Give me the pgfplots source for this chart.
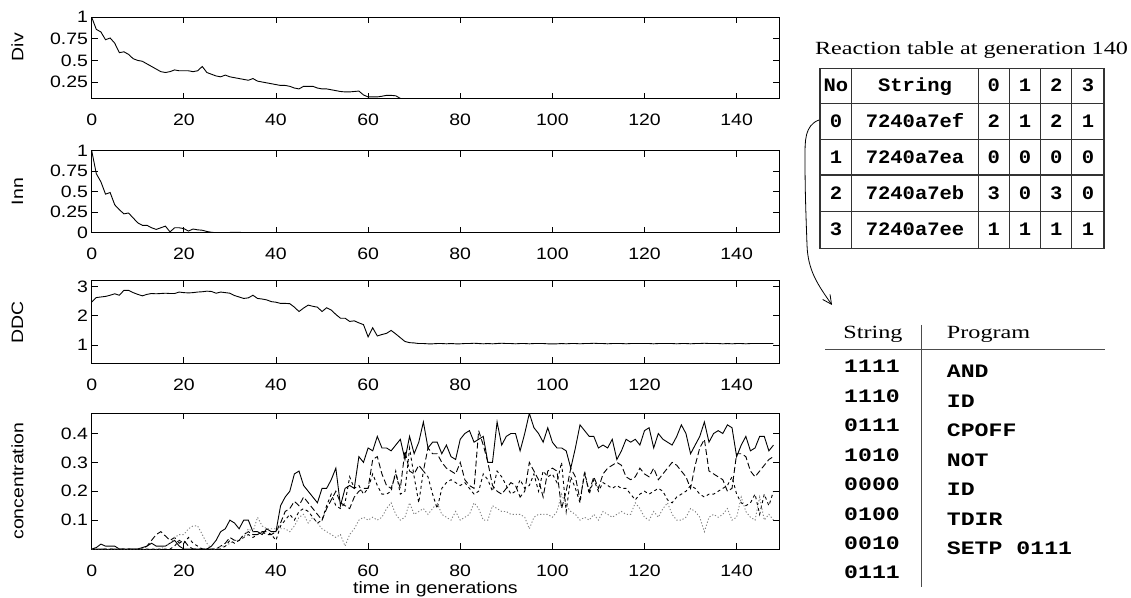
\documentclass[border=0pt]{standalone}
\usepackage{fontspec}
\setmainfont{Liberation Sans}[FakeStretch=1.18]
\newfontfamily\timesfont{Liberation Serif}[FakeStretch=1.3]
\newfontfamily\monoA{Liberation Mono}[FakeStretch=1.08]
\newfontfamily\monoB{Liberation Mono}[FakeStretch=1.22]
\usepackage{pgfplots}
\usepackage{pgfplotstable}
\pgfplotsset{compat=1.18}
\usetikzlibrary{arrows.meta}

% g, diversity, innovation, DDC
\pgfplotstableread{
g div inn ddc
0 1.00 1.00 2.48
1 0.86 0.72 2.63
2 0.83 0.62 2.65
3 0.74 0.47 2.67
4 0.76 0.49 2.71
5 0.70 0.34 2.76
6 0.59 0.28 2.71
7 0.60 0.23 2.88
8 0.57 0.24 2.88
9 0.52 0.18 2.80
10 0.50 0.12 2.74
11 0.49 0.09 2.69
12 0.46 0.09 2.74
13 0.43 0.06 2.77
14 0.40 0.04 2.76
15 0.37 0.06 2.77
16 0.36 0.08 2.78
17 0.37 0.01 2.77
18 0.39 0.06 2.77
19 0.38 0.06 2.82
20 0.38 0.05 2.80
21 0.38 0.02 2.79
22 0.37 0.045 2.80
23 0.38 0.035 2.82
24 0.43 0.03 2.83
25 0.36 0.015 2.85
26 0.34 0.005 2.84
27 0.32 0 2.78
28 0.31 0 2.82
29 0.33 0 2.80
30 0.31 0.003 2.78
31 0.30 0.005 2.70
32 0.29 0.005 2.65
33 0.28 0 2.60
34 0.27 0 2.62
35 0.29 0 2.71
36 0.26 0 2.60
37 0.25 0 2.58
38 0.24 0 2.55
39 0.23 0 2.49
40 0.22 0 2.47
41 0.21 0 2.43
42 0.21 0 2.43
43 0.20 0 2.42
44 0.18 0 2.30
45 0.17 0 2.15
46 0.20 0 2.27
47 0.20 0 2.37
48 0.20 0 2.33
49 0.18 0 2.30
50 0.17 0 2.15
51 0.17 0 2.28
52 0.16 0 2.20
53 0.15 0 2.05
54 0.14 0 1.92
55 0.135 0 1.92
56 0.135 0 1.81
57 0.14 0 1.83
58 0.145 0 1.76
59 0.10 0 1.70
60 0.077 0 1.28
61 0.077 0 1.59
62 0.077 0 1.31
63 0.085 0 1.36
64 0.095 0 1.40
65 0.095 0 1.50
66 0.09 0 1.38
67 0.06 0 1.25
68 0.045 0 1.12
69 0.03 0 1.08
70 0.02 0 1.07
71 0.02 0 1.05
72 0.02 0 1.05
73 0.02 0 1.04
74 0.02 0 1.04
75 0.02 0 1.05
76 0.02 0 1.05
77 0.02 0 1.04
78 0.02 0 1.05
79 0.02 0 1.04
80 0.02 0 1.04
81 0.02 0 1.05
82 0.02 0 1.05
83 0.02 0 1.06
84 0.02 0 1.05
85 0.02 0 1.04
86 0.02 0 1.05
87 0.02 0 1.04
88 0.02 0 1.05
89 0.02 0 1.06
90 0.02 0 1.05
91 0.02 0 1.05
92 0.02 0 1.04
93 0.02 0 1.05
94 0.02 0 1.05
95 0.02 0 1.04
96 0.02 0 1.05
97 0.02 0 1.05
98 0.02 0 1.05
99 0.02 0 1.04
100 0.02 0 1.04
101 0.02 0 1.04
102 0.02 0 1.05
103 0.02 0 1.04
104 0.02 0 1.05
105 0.02 0 1.05
106 0.02 0 1.04
107 0.02 0 1.05
108 0.02 0 1.05
109 0.02 0 1.06
110 0.02 0 1.05
111 0.02 0 1.05
112 0.02 0 1.04
113 0.02 0 1.05
114 0.02 0 1.05
115 0.02 0 1.05
116 0.02 0 1.04
117 0.02 0 1.05
118 0.02 0 1.05
119 0.02 0 1.05
120 0.02 0 1.05
121 0.02 0 1.05
122 0.02 0 1.04
123 0.02 0 1.05
124 0.02 0 1.05
125 0.02 0 1.05
126 0.02 0 1.05
127 0.02 0 1.04
128 0.02 0 1.05
129 0.02 0 1.05
130 0.02 0 1.04
131 0.02 0 1.05
132 0.02 0 1.05
133 0.02 0 1.06
134 0.02 0 1.05
135 0.02 0 1.05
136 0.02 0 1.05
137 0.02 0 1.04
138 0.02 0 1.05
139 0.02 0 1.04
140 0.02 0 1.05
141 0.02 0 1.05
142 0.02 0 1.04
143 0.02 0 1.05
144 0.02 0 1.05
145 0.02 0 1.05
146 0.02 0 1.05
147 0.02 0 1.05
148 0.02 0 1.05
}\toptab

% concentrations of the four dominant strings
\pgfplotstableread{
g a b c d
0 0 0 0 0
1 0.005 0 0 0
2 0.017 0 0 0
3 0.01 0 0 0
4 0.01 0 0 0
5 0.01 0 0 0
6 0 0 0 0
7 0 0 0 0
8 0 0 0 0
9 0 0 0 0
10 0 0 0 0
11 0.005 0 0 0
12 0.01 0.01 0 0
13 0.02 0.03 0 0
14 0.01 0.05 0 0
15 0.01 0.06 0 0
16 0.01 0.045 0 0.01
17 0.02 0.03 0 0.02
18 0.03 0.04 0.01 0.04
19 0.01 0.02 0.03 0.05
20 0 0.03 0.02 0.05
21 0 0.01 0.04 0.07
22 0 0 0.02 0.08
23 0 0 0.01 0.08
24 0 0 0 0.05
25 0 0 0 0.02
26 0.01 0 0 0
27 0.03 0 0 0
28 0.06 0.01 0 0.01
29 0.07 0.02 0.01 0.01
30 0.10 0.04 0.03 0.02
31 0.09 0.03 0.02 0.03
32 0.07 0.03 0.03 0.03
33 0.10 0.05 0.04 0.04
34 0.10 0.06 0.05 0.07
35 0.06 0.05 0.04 0.06
36 0.06 0.05 0.05 0.11
37 0.05 0.06 0.06 0.08
38 0.07 0.06 0.05 0.07
39 0.06 0.05 0.05 0.07
40 0.06 0.06 0.03 0.07
41 0.15 0.09 0.08 0.07
42 0.18 0.13 0.10 0.07
43 0.20 0.14 0.12 0.06
44 0.26 0.165 0.10 0.08
45 0.27 0.15 0.13 0.11
46 0.22 0.18 0.14 0.12
47 0.20 0.16 0.13 0.09
48 0.18 0.14 0.11 0.11
49 0.16 0.12 0.09 0.09
50 0.21 0.10 0.10 0.07
51 0.21 0.14 0.15 0.06
52 0.24 0.17 0.19 0.05
53 0.28 0.20 0.15 0.04
54 0.15 0.16 0.14 0.05
55 0.21 0.15 0.16 0.01
56 0.22 0.14 0.25 0.05
57 0.21 0.18 0.21 0.07
58 0.32 0.20 0.22 0.10
59 0.30 0.21 0.19 0.11
60 0.35 0.21 0.21 0.10
61 0.34 0.31 0.26 0.11
62 0.39 0.32 0.22 0.10
63 0.35 0.26 0.19 0.11
64 0.35 0.22 0.19 0.14
65 0.34 0.21 0.20 0.16
66 0.36 0.26 0.27 0.12
67 0.38 0.21 0.19 0.10
68 0.31 0.34 0.20 0.11
69 0.39 0.27 0.35 0.16
70 0.33 0.26 0.25 0.12
71 0.37 0.29 0.16 0.13
72 0.44 0.27 0.27 0.14
73 0.35 0.35 0.25 0.12
74 0.37 0.33 0.19 0.14
75 0.37 0.33 0.14 0.16
76 0.33 0.30 0.21 0.12
77 0.36 0.28 0.23 0.11
78 0.32 0.27 0.24 0.10
79 0.31 0.26 0.23 0.13
80 0.38 0.30 0.22 0.10
81 0.40 0.24 0.23 0.11
82 0.41 0.22 0.21 0.12
83 0.37 0.21 0.19 0.16
84 0.38 0.41 0.20 0.14
85 0.39 0.36 0.26 0.10
86 0.30 0.30 0.24 0.10
87 0.30 0.22 0.20 0.15
88 0.44 0.20 0.27 0.14
89 0.36 0.19 0.25 0.13
90 0.39 0.21 0.22 0.13
91 0.40 0.23 0.19 0.12
92 0.40 0.22 0.20 0.12
93 0.34 0.18 0.24 0.12
94 0.40 0.20 0.21 0.11
95 0.47 0.30 0.22 0.07
96 0.42 0.27 0.26 0.11
97 0.40 0.24 0.20 0.12
98 0.37 0.18 0.27 0.12
99 0.42 0.27 0.25 0.12
100 0.37 0.28 0.26 0.11
101 0.35 0.27 0.23 0.13
102 0.35 0.14 0.30 0.19
103 0.34 0.20 0.13 0.15
104 0.28 0.28 0.25 0.13
105 0.35 0.25 0.21 0.12
106 0.43 0.17 0.16 0.10
107 0.41 0.26 0.27 0.11
108 0.39 0.20 0.19 0.10
109 0.39 0.25 0.24 0.12
110 0.35 0.21 0.20 0.10
111 0.36 0.26 0.23 0.13
112 0.35 0.28 0.22 0.12
113 0.38 0.29 0.21 0.11
114 0.31 0.30 0.22 0.12
115 0.34 0.29 0.21 0.13
116 0.38 0.25 0.21 0.12
117 0.37 0.24 0.19 0.12
118 0.38 0.25 0.17 0.16
119 0.36 0.28 0.19 0.14
120 0.41 0.26 0.20 0.11
121 0.42 0.25 0.19 0.10
122 0.35 0.28 0.20 0.13
123 0.40 0.24 0.21 0.11
124 0.38 0.26 0.20 0.14
125 0.37 0.28 0.17 0.16
126 0.36 0.30 0.16 0.12
127 0.39 0.29 0.18 0.10
128 0.43 0.27 0.19 0.10
129 0.40 0.25 0.20 0.11
130 0.33 0.21 0.22 0.14
131 0.36 0.29 0.21 0.13
132 0.39 0.35 0.19 0.11
133 0.44 0.38 0.18 0.06
134 0.37 0.27 0.19 0.11
135 0.40 0.26 0.19 0.12
136 0.41 0.25 0.20 0.11
137 0.40 0.24 0.21 0.12
138 0.43 0.20 0.22 0.14
139 0.42 0.21 0.25 0.10
140 0.32 0.33 0.19 0.11
141 0.36 0.33 0.16 0.18
142 0.39 0.32 0.15 0.13
143 0.34 0.27 0.16 0.11
144 0.35 0.25 0.19 0.10
145 0.39 0.27 0.12 0.18
146 0.39 0.29 0.19 0.10
147 0.34 0.31 0.15 0.12
148 0.36 0.32 0.20 0.10
}\conctab

\pgfplotsset{
  panel/.style={
    scale only axis, width=687.3pt, xmin=0, xmax=149.2,
    xtick={0,20,...,140},
    tick align=inside, major tick length=6pt,
    axis line style={line width=1pt, black},
    tick style={line width=0.8pt, black},
    tick label style={font=\fontsize{16.5}{19}\selectfont},
    label style={font=\fontsize{16.5}{19}\selectfont},
    /pgf/number format/assume math mode=true,
    xticklabel style={anchor=base, inner sep=0pt, yshift=-27pt},
    yticklabel style={anchor=east, inner sep=0pt, xshift=-3.5pt},
    ylabel style={at={(axis description cs:-0.108,0.5)}, anchor=center},
  },
  curve/.style={black, line width=0.9pt, no marks},
}

\begin{document}
\begin{tikzpicture}[x=1pt, y=1pt]
\useasboundingbox (0,0) rectangle (1131,597);

\begin{axis}[panel, at={(91.7pt,498pt)}, anchor=south west, height=81.7pt,
  ymin=0.053, ymax=1, ytick={0.25,0.5,0.75,1}, ylabel={Div},
  ylabel style={at={(axis description cs:-0.108,0.636)}}]
\addplot[curve] table[x=g, y=div] {\toptab};
\end{axis}

\begin{axis}[panel, at={(91.7pt,364.3pt)}, anchor=south west, height=82pt,
  ymin=0, ymax=1, ytick={0,0.25,0.5,0.75,1}, ylabel={Inn}]
\addplot[curve] table[x=g, y=inn] {\toptab};
\end{axis}

\begin{axis}[panel, at={(91.7pt,233.7pt)}, anchor=south west, height=82.3pt,
  ymin=0.37, ymax=3.2, ytick={1,2,3}, ylabel={DDC}]
\addplot[curve] table[x=g, y=ddc] {\toptab};
\end{axis}

\begin{axis}[panel, at={(91.7pt,48pt)}, anchor=south west, height=135.7pt,
  ymin=0, ymax=0.47, ytick={0.1,0.2,0.3,0.4}, ylabel={concentration},
  xlabel={time in generations},
  xlabel style={at={(axis description cs:0.5,0)}, anchor=base, yshift=-44pt}]
\addplot[curve] table[x=g, y=a] {\conctab};
\addplot[curve, dash pattern=on 6pt off 3pt] table[x=g, y=b] {\conctab};
\addplot[curve, dash pattern=on 3pt off 3pt] table[x=g, y=c] {\conctab};
\addplot[curve, gray, dash pattern=on 1.2pt off 2pt] table[x=g, y=d] {\conctab};
\end{axis}

% reaction table
\node[anchor=base, font=\timesfont\fontsize{18.6}{20}\selectfont] at (971.5,542) {Reaction table at generation 140};
\begin{scope}[black!80, line width=1.5pt]
\draw (820,528.7) rectangle (1104,348.7);
\foreach \yy in {493.7,457.7,422,385.3} \draw (820,\yy) -- (1104,\yy);
\foreach \xx in {851.7,978.3,1009.3,1040.7,1071.7} \draw (\xx,528.7) -- (\xx,348.7);
\end{scope}
\begin{scope}[every node/.style={anchor=base, font=\monoA\bfseries\fontsize{19}{20}\selectfont, inner sep=0pt}]
\node at (835.9,505.2) {No};
\node at (915,505.2) {String};
\node at (993.8,505.2) {0};
\node at (1025,505.2) {1};
\node at (1056.2,505.2) {2};
\node at (1087.9,505.2) {3};
\node at (835.9,469.7) {0};
\node at (915,469.7) {7240a7ef};
\node at (993.8,469.7) {2};
\node at (1025,469.7) {1};
\node at (1056.2,469.7) {2};
\node at (1087.9,469.7) {1};
\node at (835.9,433.8) {1};
\node at (915,433.8) {7240a7ea};
\node at (993.8,433.8) {0};
\node at (1025,433.8) {0};
\node at (1056.2,433.8) {0};
\node at (1087.9,433.8) {0};
\node at (835.9,397.6) {2};
\node at (915,397.6) {7240a7eb};
\node at (993.8,397.6) {3};
\node at (1025,397.6) {0};
\node at (1056.2,397.6) {3};
\node at (1087.9,397.6) {0};
\node at (835.9,361) {3};
\node at (915,361) {7240a7ee};
\node at (993.8,361) {1};
\node at (1025,361) {1};
\node at (1056.2,361) {1};
\node at (1087.9,361) {1};
\end{scope}

% arrow from row 0 to the program listing
\draw[line width=0.8pt, -{Straight Barb[length=9pt, width=9pt]}]
  (819,477) to[out=200, in=90] (805,440) to[out=-90, in=92] (807,352) to[out=-88, in=125] (832,292);

% program listing
\draw[black!70, line width=1pt] (921.7,272) -- (921.7,10);
\draw[black!70, line width=1pt] (825,247) -- (1105,247);
\node[anchor=base, font=\timesfont\fontsize{18.6}{20}\selectfont, inner sep=0pt] at (873,258) {String};
\node[anchor=base west, font=\timesfont\fontsize{18.6}{20}\selectfont, inner sep=0pt] at (946.7,258) {Program};
\begin{scope}[every node/.style={font=\monoB\bfseries\fontsize{19}{20}\selectfont, inner sep=0pt}]
\node[anchor=base] at (872,224) {1111};
\node[anchor=base] at (872,194.6) {1110};
\node[anchor=base] at (872,165.2) {0111};
\node[anchor=base] at (872,135.8) {1010};
\node[anchor=base] at (872,106.4) {0000};
\node[anchor=base] at (872,77) {0100};
\node[anchor=base] at (872,47.6) {0010};
\node[anchor=base] at (872,18.2) {0111};
\node[anchor=base west] at (946.7,219) {AND};
\node[anchor=base west] at (946.7,189.6) {ID};
\node[anchor=base west] at (946.7,160.2) {CPOFF};
\node[anchor=base west] at (946.7,130.8) {NOT};
\node[anchor=base west] at (946.7,101.4) {ID};
\node[anchor=base west] at (946.7,72) {TDIR};
\node[anchor=base west] at (946.7,42.6) {SETP 0111};
\end{scope}
\end{tikzpicture}
\end{document}
